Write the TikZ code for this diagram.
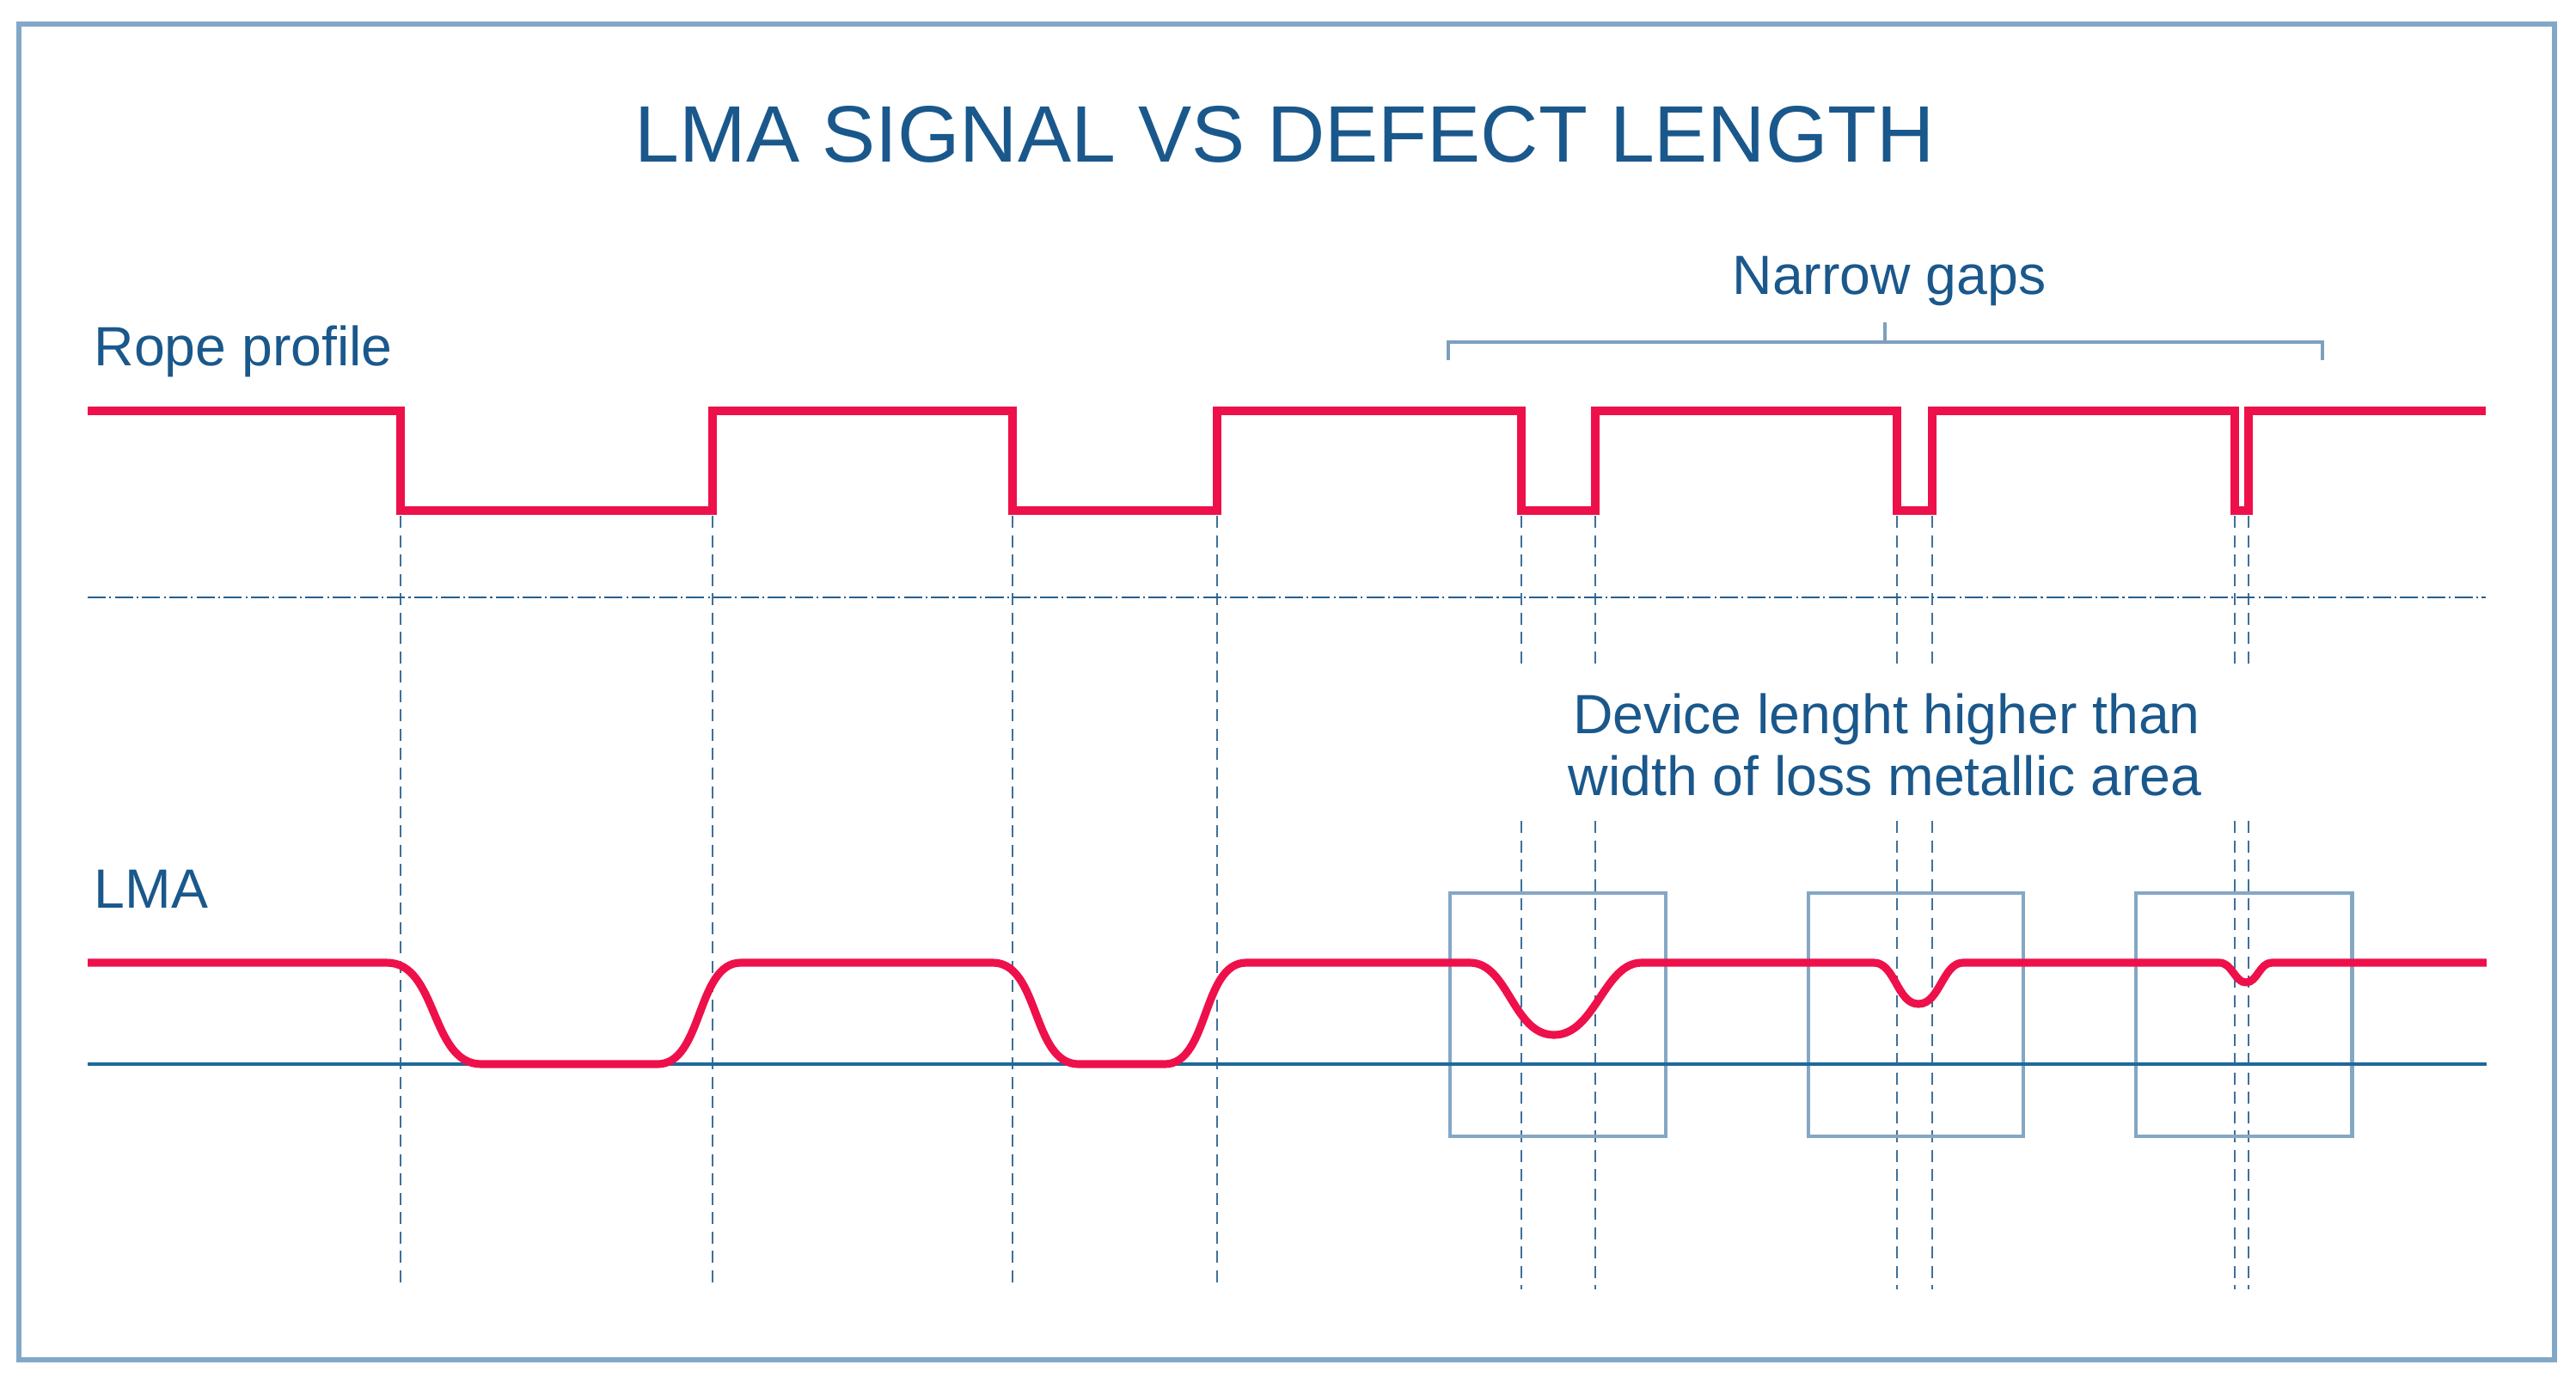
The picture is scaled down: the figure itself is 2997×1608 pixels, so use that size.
\documentclass[tikz,border=0pt]{standalone}
\usepackage{fontspec}
\setmainfont{Liberation Sans}
\definecolor{sigred}{RGB}{238,16,74}
\definecolor{txtblue}{RGB}{26,88,140}
\definecolor{framec}{RGB}{130,168,200}
\definecolor{boxc}{RGB}{132,167,196}
\definecolor{dashc}{RGB}{62,112,155}
\definecolor{ddc}{RGB}{38,94,142}
\definecolor{basec}{RGB}{30,105,155}
\definecolor{brk}{RGB}{125,160,188}
\tikzset{
  lbl/.style={inner sep=0pt, text=txtblue, font=\fontsize{18.3}{20.5}\selectfont},
  ttl/.style={inner sep=0pt, text=txtblue, font=\fontsize{26.5}{30}\selectfont},
  sig/.style={draw=sigred, line width=2.6pt},
  vdash/.style={draw=dashc, line width=0.7pt, dash pattern=on 4pt off 2.4pt},
  ddot/.style={draw=ddc, line width=0.75pt, dash pattern=on 6pt off 1.2pt on 0.6pt off 1.2pt},
  basel/.style={draw=basec, line width=1pt},
  devbox/.style={draw=boxc, line width=1.4pt},
  brace/.style={draw=brk, line width=0.9pt},
  frm/.style={draw=framec, line width=1.5pt}
}
\begin{document}
\begin{tikzpicture}[x=0.01cm, y=-0.01cm]
\useasboundingbox (0,0) rectangle (2997,1608);
\fill[white] (0,0) rectangle (2997,1608);
\draw[frm] (22,28) rectangle (2972,1582);

% texts
\node[ttl, anchor=base] (title) at (1495,188) {LMA SIGNAL VS DEFECT LENGTH};
\node[lbl, anchor=base west] (rope) at (109,425) {Rope profile};
\node[lbl, anchor=base west] (lma) at (109,1056) {LMA};
\node[lbl, anchor=base] (narrow) at (2198,342) {Narrow gaps};
\node[lbl, anchor=base] (dev1) at (2195,853) {Device lenght higher than};
\node[lbl, anchor=base] (dev2) at (2193,925) {width of loss metallic area};

% bracket
\coordinate (bl) at (1685,398);
\coordinate (br) at (2702,398);
\coordinate (bc) at (2193,398);
\coordinate (blt) at (1685,419);
\coordinate (brt) at (2702,419);
\coordinate (bct) at (2193,375);
\draw[brace] (blt) -- (bl) -- (br) -- (brt);
\draw[brace] (bc) -- (bct);

% vertical dashed guides (left, continuous)
\foreach \x in {466,829,1178,1416}{
  \draw[vdash] (\x,600) -- (\x,1500);
}
% vertical dashed guides (right, split)
\foreach \x in {1770,1856,2207,2248,2600,2616}{
  \draw[vdash] (\x,600) -- (\x,780);
  \draw[vdash] (\x,955) -- (\x,1500);
}

% dash-dot reference line
\draw[ddot] (102,695) -- (2892,695);

% device boxes
\draw[devbox] (1687,1039) rectangle (1938,1322);
\draw[devbox] (2104,1039) rectangle (2354,1322);
\draw[devbox] (2485,1039) rectangle (2736,1322);

% LMA baseline
\draw[basel] (102,1238) -- (2893,1238);

% rope profile
\draw[sig] (102,478) -- (466,478) -- (466,594) -- (829,594) -- (829,478)
  -- (1178,478) -- (1178,594) -- (1416,594) -- (1416,478)
  -- (1770,478) -- (1770,594) -- (1856,594) -- (1856,478)
  -- (2207,478) -- (2207,594) -- (2248,594) -- (2248,478)
  -- (2600,478) -- (2600,594) -- (2616,594) -- (2616,478) -- (2892,478);

% LMA signal
\draw[sig, line join=round] (102,1120) -- (450,1120)
  .. controls (510,1120) and (500,1238) .. (560,1238)
  -- (765,1238)
  .. controls (818,1238) and (810,1120) .. (862,1120)
  -- (1155,1120)
  .. controls (1210,1120) and (1200,1238) .. (1255,1238)
  -- (1355,1238)
  .. controls (1407,1238) and (1398,1120) .. (1450,1120)
  -- (1710,1120)
  .. controls (1755,1120) and (1760,1204) .. (1808,1204)
  .. controls (1856,1204) and (1866,1120) .. (1910,1120)
  -- (2180,1120)
  .. controls (2205,1120) and (2207,1168) .. (2232,1168)
  .. controls (2257,1168) and (2260,1120) .. (2284,1120)
  -- (2582,1120)
  .. controls (2597,1120) and (2600,1143) .. (2613,1143)
  .. controls (2626,1143) and (2629,1120) .. (2643,1120)
  -- (2893,1120);
\end{tikzpicture}
\end{document}
